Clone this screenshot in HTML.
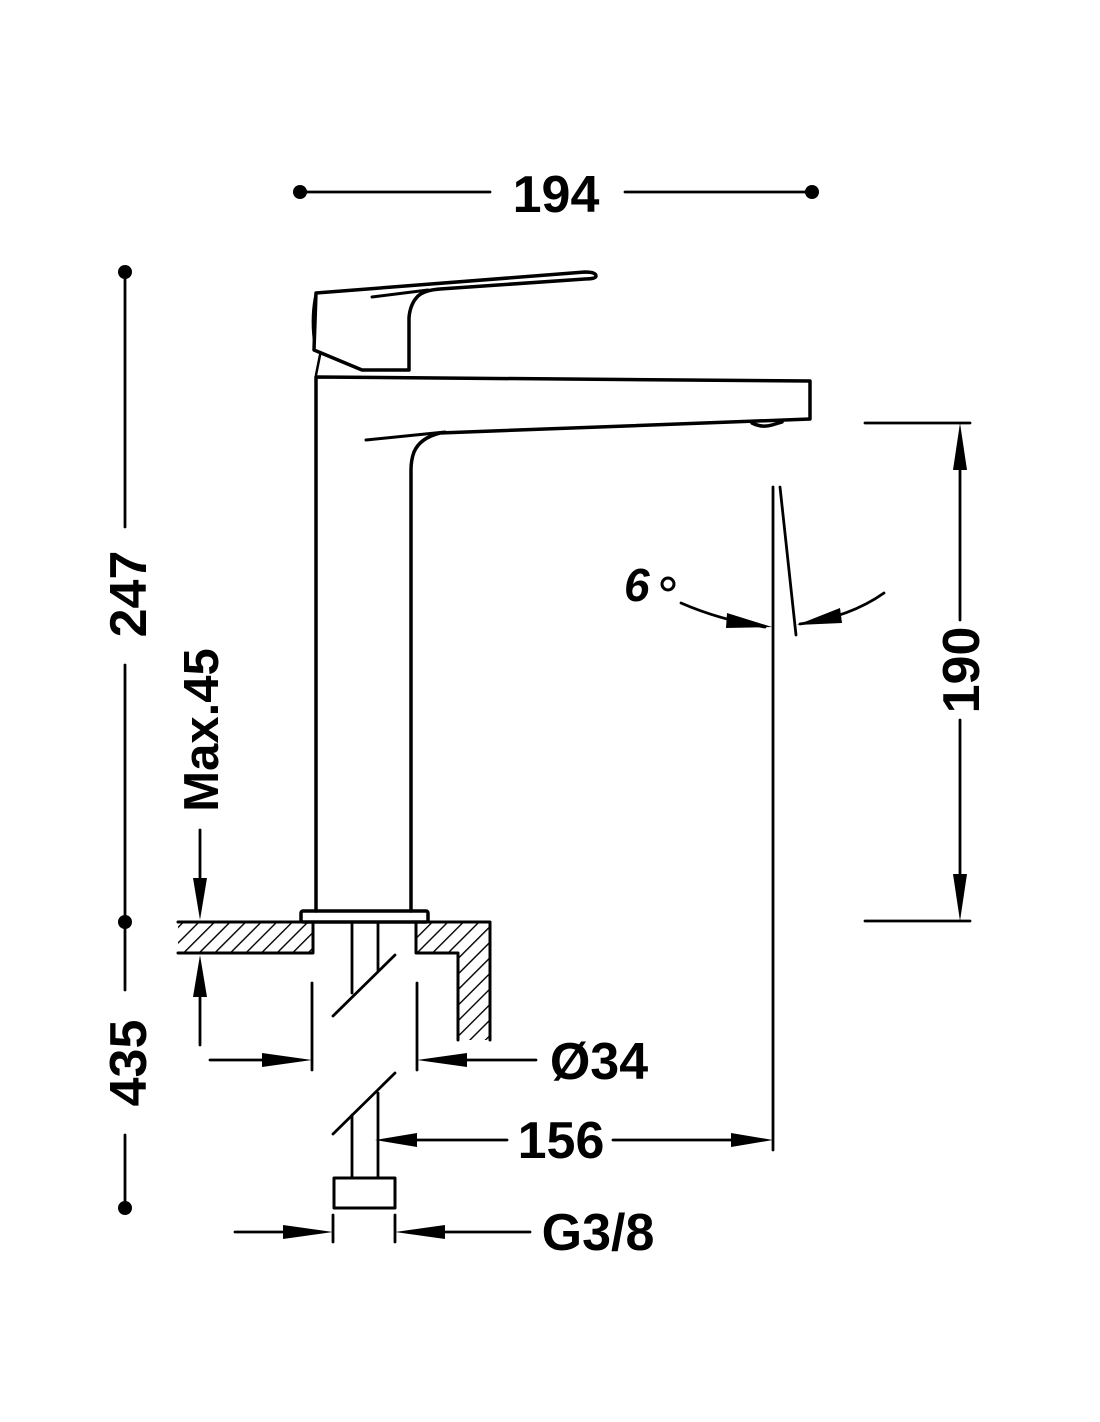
<!DOCTYPE html>
<html><head><meta charset="utf-8"><style>
html,body{margin:0;padding:0;background:#fff}
svg{display:block}
text{font-family:"Liberation Sans",Arial,sans-serif;font-weight:bold;fill:#000}
</style></head><body>
<svg width="1100" height="1422" viewBox="0 0 1100 1422" xmlns="http://www.w3.org/2000/svg">
<defs>
<pattern id="h" patternUnits="userSpaceOnUse" width="11" height="11" patternTransform="rotate(45)">
<line x1="0" y1="0" x2="0" y2="11" stroke="#000" stroke-width="2.8"/>
</pattern>
</defs>
<g stroke="#000" fill="none" stroke-width="2.8" stroke-linecap="round" stroke-linejoin="round">
<line x1="300" y1="192" x2="490" y2="192"/>
<line x1="625" y1="192" x2="812" y2="192"/>
<line x1="125" y1="272" x2="125" y2="527"/>
<line x1="125" y1="665" x2="125" y2="990"/>
<line x1="125" y1="1135" x2="125" y2="1208"/>
<line x1="200" y1="830" x2="200" y2="900"/>
<line x1="200" y1="975" x2="200" y2="1045"/>
<path d="M316,293 L585,272 Q596,272 596,276 Q596,279 585,279 L440,289 Q425,290 418,296 Q410,304 409,318 L409,370 L362,370 L314,350 Z" stroke-width="3.5"/>
<line x1="372" y1="297" x2="428" y2="290" stroke-width="3"/>
<path d="M316,293 Q311,315 314,340" stroke-width="2.5"/>
<line x1="320" y1="355" x2="316" y2="375" stroke-width="2.5"/>
<path d="M316,911 L316,377 L810,381 L810,419 L440,433 Q420,438 414,452 Q411,460 411,470 L411,911" stroke-width="3.5"/>
<line x1="366" y1="440" x2="445" y2="432" stroke-width="3"/>
<path d="M752,423 Q762,428 772,425 L782,422" stroke-width="3.5"/>
<rect x="301" y="911" width="127" height="11" rx="2" stroke-width="3.5"/>
<rect x="178" y="922" width="135" height="31" fill="url(#h)" stroke="none"/>
<path d="M178,922 L313,922 L313,953 L178,953" stroke-width="3"/>
<path d="M416,922 L490,922 L490,1040 L458,1040 L458,953 L416,953 Z" fill="url(#h)" stroke="none"/>
<path d="M416,922 L490,922 L490,1040 M458,1040 L458,953 L416,953 L416,922" stroke-width="3"/>
<line x1="352" y1="922" x2="352" y2="993"/>
<line x1="378" y1="922" x2="378" y2="970"/>
<line x1="333" y1="1016" x2="395" y2="955"/>
<line x1="333" y1="1134" x2="395" y2="1073"/>
<line x1="352" y1="1115" x2="352" y2="1178"/>
<line x1="378" y1="1093" x2="378" y2="1178"/>
<rect x="334" y="1178" width="61" height="30" stroke-width="3"/>
<line x1="312" y1="983" x2="312" y2="1070"/>
<line x1="417" y1="983" x2="417" y2="1070"/>
<line x1="210" y1="1060" x2="300" y2="1060"/>
<line x1="430" y1="1060" x2="536" y2="1060"/>
<line x1="390" y1="1140" x2="507" y2="1140"/>
<line x1="613" y1="1140" x2="760" y2="1140"/>
<line x1="773" y1="487" x2="773" y2="1150"/>
<line x1="235" y1="1232" x2="320" y2="1232"/>
<line x1="408" y1="1232" x2="530" y2="1232"/>
<line x1="333" y1="1215" x2="333" y2="1242"/>
<line x1="395" y1="1215" x2="395" y2="1242"/>
<line x1="780" y1="487" x2="796" y2="635"/>
<path d="M681,603 Q720,620 765,627"/>
<path d="M884,593 Q850,617 800,624"/>
<line x1="865" y1="423" x2="970" y2="423"/>
<line x1="865" y1="921" x2="970" y2="921"/>
<line x1="960" y1="440" x2="960" y2="620"/>
<line x1="960" y1="720" x2="960" y2="905"/>
</g>
<g fill="#000">
<circle cx="300" cy="192" r="7"/><circle cx="812" cy="192" r="7"/>
<circle cx="125" cy="272" r="7"/><circle cx="125" cy="922" r="7"/><circle cx="125" cy="1208" r="7"/>
<polygon points="200,920 193,878 207,878"/>
<polygon points="200,955 193,997 207,997"/>
<polygon points="312,1060 262,1053 262,1067"/>
<polygon points="417,1060 467,1053 467,1067"/>
<polygon points="375,1140 417,1133 417,1147"/>
<polygon points="773,1140 731,1133 731,1147"/>
<polygon points="333,1232 283,1225 283,1239"/>
<polygon points="395,1232 445,1225 445,1239"/>
<polygon points="960,423 953,470 967,470"/>
<polygon points="960,921 953,874 967,874"/>
<polygon points="772,627 727,613 726,628"/>
<polygon points="797,625 840,608 842,623"/>
</g>
<text x="556" y="212" font-size="52" text-anchor="middle">194</text>
<text transform="translate(146,594) rotate(-90)" font-size="52" text-anchor="middle">247</text>
<text transform="translate(146,1063) rotate(-90)" font-size="52" text-anchor="middle">435</text>
<text transform="translate(218,730) rotate(-90)" font-size="49" text-anchor="middle">Max.45</text>
<text transform="translate(979,670) rotate(-90)" font-size="52" text-anchor="middle">190</text>
<text x="599" y="1079" font-size="52" text-anchor="middle">Ø34</text>
<text x="561" y="1158" font-size="52" text-anchor="middle">156</text>
<text x="598" y="1250" font-size="52" text-anchor="middle">G3/8</text>
<text x="624" y="601" font-size="46" font-style="italic">6</text>
<circle cx="668" cy="584" r="6" fill="none" stroke="#000" stroke-width="3"/>
</svg>
</body></html>
